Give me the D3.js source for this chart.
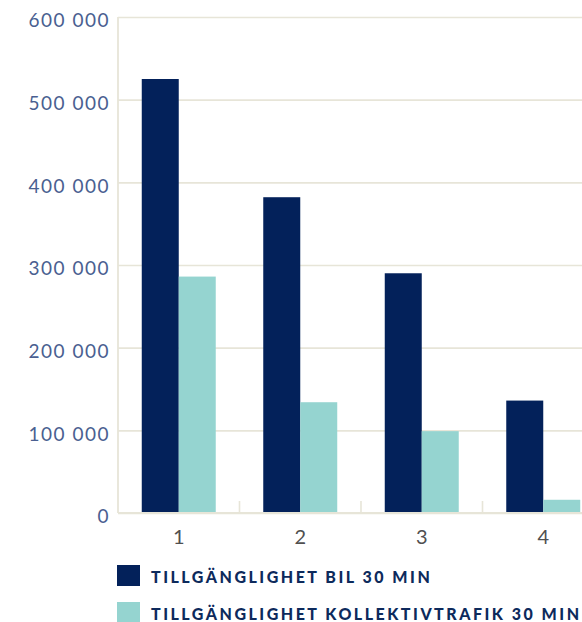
<!DOCTYPE html>
<html>
<head>
<meta charset="utf-8">
<script src="https://cdn.jsdelivr.net/npm/d3@7"></script>
<style>
  html, body { margin: 0; padding: 0; background: #fff; }
  svg { display: block; }
</style>
</head>
<body>
<svg id="chart" width="582" height="622"></svg>
<script>
// Accessibility within 30 minutes, by zone
const categories = ["1", "2", "3", "4"];
const seriesNames = ["TILLGÄNGLIGHET BIL 30 MIN", "TILLGÄNGLIGHET KOLLEKTIVTRAFIK 30 MIN"];
const bilValues = [525000, 382000, 290000, 136000];
const kollektivValues = [286000, 134000, 99000, 16000];
const yTicks = [0, 100000, 200000, 300000, 400000, 500000, 600000];
const colors = ["#03215a", "#95d4d0"];

const series = [bilValues, kollektivValues];
const svg = d3.select("#chart");

const margin = { left: 118, top: 17, bottom: 513, right: 604 };
const gridColor = "#e7e5d8";

const x0 = d3.scaleBand().domain(categories).range([margin.left, margin.right]).padding(0);
const x1 = d3.scaleBand().domain(d3.range(series.length))
  .range([0, x0.bandwidth()]).paddingInner(0).paddingOuter(0.642);
const y = d3.scaleLinear().domain([0, 600000]).range([margin.bottom, margin.top]);

const fmt = v => d3.format(",")(v).replace(/,/g, " ");

// Horizontal gridlines and value labels
const yAxis = d3.axisLeft(y).tickValues(yTicks).tickSize(0).tickPadding(0).tickFormat(fmt);
const yg = svg.append("g").attr("transform", `translate(${margin.left},0)`).call(yAxis);
yg.select(".domain").remove();
yg.selectAll(".tick").append("line")
  .attr("x1", 0).attr("x2", 582 - margin.left)
  .attr("stroke", gridColor).attr("stroke-width", 1.6);
yg.selectAll(".tick text")
  .attr("x", -8).attr("dy", "0.52em")
  .attr("fill", "#4a5f91")
  .style("font-family", "Lato, sans-serif")
  .style("font-weight", 400)
  .style("font-size", "19px")
  .style("letter-spacing", "1.5px");

// Vertical axis line
svg.append("line")
  .attr("x1", margin.left).attr("x2", margin.left)
  .attr("y1", margin.top).attr("y2", margin.bottom)
  .attr("stroke", gridColor).attr("stroke-width", 1.8);

// Bars
const groups = svg.append("g").selectAll("g")
  .data(categories)
  .join("g")
  .attr("transform", d => `translate(${x0(d)},0)`);

groups.selectAll("rect")
  .data((d, i) => series.map((s, k) => ({ k, v: s[i] })))
  .join("rect")
  .attr("x", d => x1(d.k))
  .attr("width", x1.bandwidth())
  .attr("y", d => y(d.v))
  .attr("height", d => y(0) - y(d.v))
  .attr("fill", d => colors[d.k]);

// Category axis with separators between groups
const xAxis = d3.axisBottom(x0).tickSize(0).tickPadding(17);
const xg = svg.append("g").attr("transform", `translate(0,${margin.bottom})`).call(xAxis);
xg.select(".domain").remove();
xg.selectAll(".tick text")
  .attr("fill", "#505050")
  .style("font-family", "Lato, sans-serif")
  .style("font-weight", 400)
  .style("font-size", "20px");

svg.append("line")
  .attr("x1", margin.left).attr("x2", 582)
  .attr("y1", margin.bottom).attr("y2", margin.bottom)
  .attr("stroke", gridColor).attr("stroke-width", 1.8);

svg.append("g").selectAll("line")
  .data(categories.slice(1))
  .join("line")
  .attr("x1", d => x0(d)).attr("x2", d => x0(d))
  .attr("y1", margin.bottom - 12).attr("y2", margin.bottom)
  .attr("stroke", gridColor).attr("stroke-width", 1.6);

// Legend
const legend = svg.append("g").selectAll("g")
  .data(seriesNames)
  .join("g")
  .attr("transform", (d, i) => `translate(117,${565 + i * 37})`);
legend.append("rect")
  .attr("width", 23).attr("height", 21)
  .attr("fill", (d, i) => colors[i]);
legend.append("text")
  .attr("x", 34).attr("y", 18)
  .attr("fill", "#0d2a5c")
  .style("font-family", "Lato, sans-serif")
  .style("font-weight", 900)
  .style("font-size", "16px")
  .style("letter-spacing", "2.5px")
  .text(d => d);
</script>
</body>
</html>
